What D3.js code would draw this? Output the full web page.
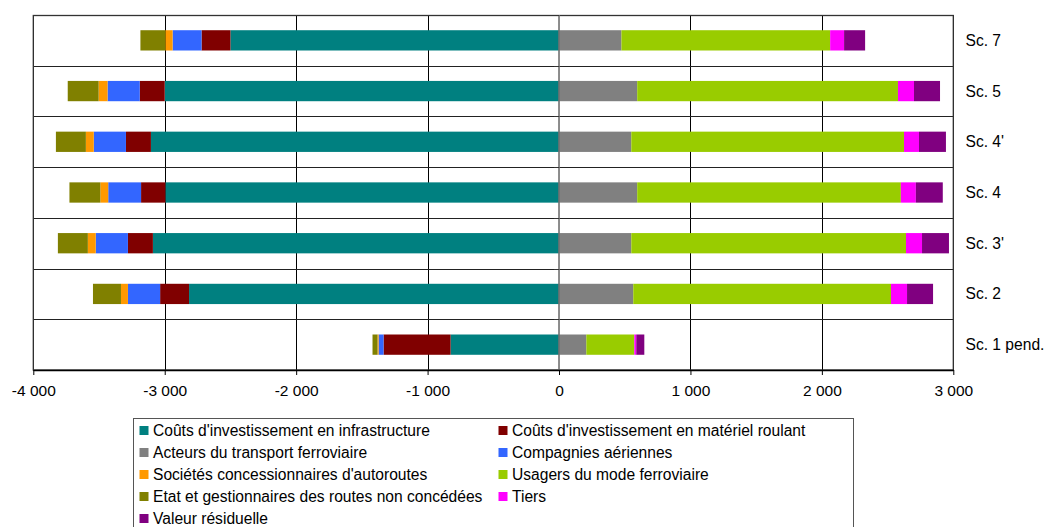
<!DOCTYPE html>
<html>
<head>
<meta charset="utf-8">
<script src="https://cdn.jsdelivr.net/npm/d3@7"></script>
<style>
  html, body { margin: 0; padding: 0; background: #fff; }
  svg { display: block; font-family: "Liberation Sans", Arial, sans-serif; }
</style>
</head>
<body>
<svg id="chart" width="1045" height="527"></svg>
<script>
// Scenarios, top to bottom
const categories = ["Sc. 7", "Sc. 5", "Sc. 4'", "Sc. 4", "Sc. 3'", "Sc. 2", "Sc. 1 pend."];

// Series values per scenario (same order as categories)
const infrastructure = [-2500, -3000, -3105, -2995, -3090, -2815, -825];
const materielRoulant = [-220, -190, -190, -185, -190, -220, -510];
const acteursFerroviaire = [475, 595, 550, 595, 550, 565, 208];
const compagniesAeriennes = [-220, -245, -245, -250, -245, -245, -38];
const concessionnaires = [-55, -68, -60, -60, -60, -53, -8];
const usagersFerroviaire = [1588, 1984, 2075, 2006, 2090, 1961, 365];
const etatRoutes = [-190, -235, -228, -235, -228, -213, -38];
const tiers = [106, 122, 114, 114, 122, 122, 15];
const valeurResiduelle = [160, 198, 205, 205, 205, 198, 61];

const seriesNames = [
  "Coûts d'investissement en infrastructure",
  "Coûts d'investissement en matériel roulant",
  "Acteurs du transport ferroviaire",
  "Compagnies aériennes",
  "Sociétés concessionnaires d'autoroutes",
  "Usagers du mode ferroviaire",
  "Etat et gestionnaires des routes non concédées",
  "Tiers",
  "Valeur résiduelle"
];
const seriesValues = [infrastructure, materielRoulant, acteursFerroviaire, compagniesAeriennes,
  concessionnaires, usagersFerroviaire, etatRoutes, tiers, valeurResiduelle];
const seriesColors = ["#008080", "#800000", "#808080", "#3366FF", "#FF9900",
  "#99CC00", "#808000", "#FF00FF", "#800080"];

const xTicks = [-4000, -3000, -2000, -1000, 0, 1000, 2000, 3000];

// Build rows for d3.stack
const keys = seriesNames;
const rows = categories.map((c, i) => {
  const r = { cat: c };
  keys.forEach((k, j) => { r[k] = seriesValues[j][i]; });
  return r;
});

const svg = d3.select("#chart");
const plot = { left: 33.3, right: 953.3, top: 15, bottom: 370 };

const x = d3.scaleLinear().domain([-4000, 3000]).range([plot.left, plot.right]);
const y = d3.scaleBand().domain(categories).range([plot.top, plot.bottom]).padding(0);
const color = d3.scaleOrdinal().domain(keys).range(seriesColors);

const stacked = d3.stack().keys(keys).offset(d3.stackOffsetDiverging)(rows);

// Thousands separated by a space, plain hyphen for negatives
const fmt = v => d3.format(",")(v).replace(/,/g, "\u00a0").replace("\u2212", "-");

// Vertical gridlines
svg.append("g").selectAll("line")
  .data(xTicks.filter(t => t !== 0))
  .join("line")
  .attr("x1", d => Math.round(x(d)) + 0.5).attr("x2", d => Math.round(x(d)) + 0.5)
  .attr("y1", plot.top).attr("y2", plot.bottom)
  .attr("stroke", "#000").attr("stroke-width", 1);

// Horizontal separators between scenarios
const bounds = categories.map(c => y(c)).concat([plot.bottom]);
svg.append("g").selectAll("line")
  .data(bounds)
  .join("line")
  .attr("x1", plot.left).attr("x2", plot.right)
  .attr("y1", d => Math.round(d) + 0.5).attr("y2", d => Math.round(d) + 0.5)
  .attr("stroke", "#222").attr("stroke-width", 1);

// Bars
const barH = y.bandwidth() / 2.5;
const barOff = (y.bandwidth() - barH) / 2;
svg.append("g").selectAll("g")
  .data(stacked)
  .join("g")
  .attr("fill", d => color(d.key))
  .selectAll("rect")
  .data(d => d)
  .join("rect")
  .attr("x", d => x(Math.min(d[0], d[1])))
  .attr("width", d => Math.abs(x(d[1]) - x(d[0])))
  .attr("y", d => y(d.data.cat) + barOff)
  .attr("height", barH);

// Plot frame
svg.append("rect")
  .attr("x", plot.left).attr("y", plot.top + 0.5)
  .attr("width", plot.right - plot.left).attr("height", plot.bottom - plot.top - 0.5)
  .attr("fill", "none").attr("stroke", "#333").attr("stroke-width", 1.3);

// Category axis at zero
svg.append("line")
  .attr("x1", x(0)).attr("x2", x(0))
  .attr("y1", plot.top).attr("y2", plot.bottom)
  .attr("stroke", "#707070").attr("stroke-width", 1.6);
svg.append("g").selectAll("line")
  .data(bounds)
  .join("line")
  .attr("x1", x(0) - 5).attr("x2", x(0))
  .attr("y1", d => Math.round(d) + 0.5).attr("y2", d => Math.round(d) + 0.5)
  .attr("stroke", "#333").attr("stroke-width", 1);

// Value axis at bottom
const xAxis = d3.axisBottom(x).tickValues(xTicks).tickFormat(fmt).tickSizeInner(5).tickSizeOuter(0).tickPadding(10);
const gx = svg.append("g").attr("transform", `translate(0,${plot.bottom})`).call(xAxis);
gx.select(".domain").attr("stroke", "#000").attr("stroke-width", 1.5);
gx.selectAll(".tick line").attr("stroke", "#000");
gx.selectAll("text").attr("font-size", "15.5px").attr("fill", "#000")
  .attr("font-family", "'Liberation Sans', Arial, sans-serif");

// Scenario labels on the right
svg.append("g").selectAll("text")
  .data(categories)
  .join("text")
  .attr("x", 965.5)
  .attr("y", d => y(d) + y.bandwidth() / 2)
  .attr("dy", "0.35em")
  .attr("font-size", "15.6px")
  .attr("fill", "#000")
  .text(d => d);

// Legend
const legend = svg.append("g");
legend.append("rect")
  .attr("x", 133.5).attr("y", 418.5).attr("width", 720).attr("height", 130)
  .attr("fill", "#fff").attr("stroke", "#555").attr("stroke-width", 1);
const colX = [139.5, 498.5];
const rowY0 = 430.5, rowStep = 22;
const items = legend.selectAll("g.item")
  .data(keys)
  .join("g")
  .attr("class", "item")
  .attr("transform", (d, i) => `translate(${colX[i % 2]},${rowY0 + Math.floor(i / 2) * rowStep})`);
items.append("rect")
  .attr("x", 0).attr("y", -4.5).attr("width", 9).attr("height", 9)
  .attr("fill", d => color(d));
items.append("text")
  .attr("x", 13.5).attr("y", 0).attr("dy", "0.35em")
  .attr("font-size", "15.6px").attr("fill", "#000")
  .text(d => d);
</script>
</body>
</html>
